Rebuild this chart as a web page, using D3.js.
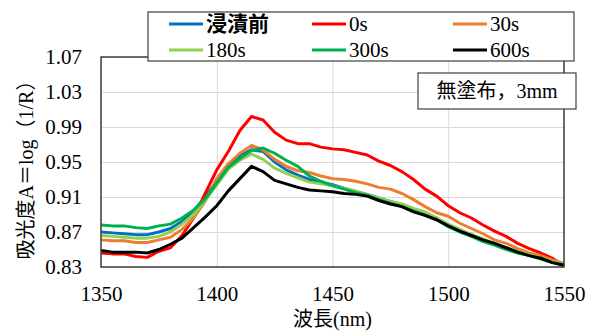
<!DOCTYPE html>
<html>
<head>
<meta charset="utf-8">
<script src="https://cdn.jsdelivr.net/npm/d3@7"></script>
<style>
    body { margin: 0; background: #fff; }
    svg { display: block; }
</style>
</head>
<body>
<div id="chart"></div>
<script>
// wavelength (nm)
const wavelengths = [
    1350, 1355, 1360, 1365, 1370, 1375, 1380, 1385, 1390, 1395,
    1400, 1405, 1410, 1415, 1420, 1425, 1430, 1435, 1440, 1445,
    1450, 1455, 1460, 1465, 1470, 1475, 1480, 1485, 1490, 1495,
    1500, 1505, 1510, 1515, 1520, 1525, 1530, 1535, 1540, 1545, 1550
];

// absorbance
const before = [
    0.870, 0.869, 0.868, 0.867, 0.867, 0.870, 0.874, 0.882, 0.894, 0.910,
    0.928, 0.946, 0.957, 0.964, 0.962, 0.950, 0.941, 0.935, 0.930, 0.927,
    0.924, 0.920, 0.916, 0.913, 0.909, 0.905, 0.901, 0.895, 0.891, 0.886,
    0.878, 0.872, 0.867, 0.861, 0.857, 0.851, 0.848, 0.844, 0.840, 0.836, 0.832
];
const s0 = [
    0.846, 0.845, 0.845, 0.842, 0.841, 0.848, 0.852, 0.866, 0.886, 0.914,
    0.941, 0.962, 0.986, 1.002, 0.998, 0.984, 0.975, 0.971, 0.971, 0.967,
    0.965, 0.964, 0.961, 0.958, 0.951, 0.946, 0.939, 0.930, 0.919, 0.911,
    0.900, 0.892, 0.886, 0.878, 0.871, 0.865, 0.857, 0.851, 0.846, 0.840, 0.831
];
const s30 = [
    0.861, 0.860, 0.860, 0.858, 0.858, 0.861, 0.864, 0.873, 0.886, 0.905,
    0.931, 0.948, 0.960, 0.969, 0.964, 0.953, 0.945, 0.940, 0.938, 0.934,
    0.931, 0.930, 0.928, 0.925, 0.921, 0.919, 0.914, 0.907, 0.899, 0.892,
    0.888, 0.880, 0.874, 0.868, 0.861, 0.857, 0.851, 0.846, 0.843, 0.838, 0.834
];
const s180 = [
    0.866, 0.865, 0.864, 0.863, 0.863, 0.865, 0.870, 0.879, 0.890, 0.906,
    0.924, 0.942, 0.952, 0.959, 0.953, 0.943, 0.937, 0.932, 0.927, 0.925,
    0.923, 0.920, 0.917, 0.913, 0.909, 0.905, 0.902, 0.897, 0.893, 0.886,
    0.879, 0.873, 0.867, 0.862, 0.857, 0.852, 0.848, 0.844, 0.840, 0.836, 0.833
];
const s300 = [
    0.878, 0.877, 0.877, 0.875, 0.874, 0.877, 0.879, 0.886, 0.895, 0.908,
    0.926, 0.944, 0.954, 0.963, 0.966, 0.960, 0.952, 0.945, 0.934, 0.928,
    0.923, 0.919, 0.915, 0.912, 0.907, 0.903, 0.899, 0.894, 0.889, 0.884,
    0.876, 0.870, 0.865, 0.859, 0.855, 0.850, 0.846, 0.843, 0.839, 0.835, 0.832
];
const s600 = [
    0.849, 0.847, 0.847, 0.847, 0.846, 0.850, 0.856, 0.863, 0.875, 0.887,
    0.900, 0.917, 0.931, 0.945, 0.939, 0.929, 0.925, 0.921, 0.918, 0.917,
    0.916, 0.914, 0.913, 0.911, 0.906, 0.902, 0.899, 0.893, 0.889, 0.884,
    0.877, 0.871, 0.866, 0.861, 0.857, 0.852, 0.847, 0.843, 0.840, 0.835, 0.832
];

const seriesNames = ['浸漬前', '0s', '30s', '180s', '300s', '600s'];
const seriesValues = [before, s0, s30, s180, s300, s600];
const seriesColors = ['#0070C0', '#FF0000', '#ED7D31', '#92D050', '#00B050', '#000000'];

const xTicks = [1350, 1400, 1450, 1500, 1550];
const yTicks = [0.83, 0.87, 0.91, 0.95, 0.99, 1.03, 1.07];

const xTitle = '波長(nm)';
const yTitle = '吸光度A＝log（1/R）';
const note = '無塗布，3mm';

const LATIN = '"Liberation Serif"';
const CJK = '"Noto Sans CJK JP"';

// one tspan per script run, each with a single font
function setMixedText(sel, str) {
    sel.text(null);
    const runs = str.match(/[\u3000-\u9fff\uff00-\uffef]+|[^\u3000-\u9fff\uff00-\uffef]+/g) || [];
    runs.forEach(r => {
        const isCjk = /[\u3000-\u9fff\uff00-\uffef]/.test(r);
        sel.append('tspan')
            .style('font-family', isCjk ? CJK : LATIN)
            .text(r);
    });
}

const width = 590, height = 333;
const margin = { top: 57, right: 26, bottom: 66, left: 101 };
const innerW = width - margin.left - margin.right;
const innerH = height - margin.top - margin.bottom;

const svg = d3.select('#chart').append('svg')
    .attr('width', width)
    .attr('height', height);

const x = d3.scaleLinear().domain([1350, 1550]).range([0, innerW]);
const y = d3.scaleLinear().domain([0.83, 1.07]).range([innerH, 0]);

const chart = svg.append('g')
    .attr('transform', `translate(${margin.left}, ${margin.top})`);

// grid
chart.append('g')
    .call(d3.axisLeft(y).tickValues(yTicks).tickSize(-innerW).tickFormat(''))
    .call(g => g.select('.domain').remove())
    .selectAll('line').attr('stroke', '#d9d9d9');
chart.append('g')
    .attr('transform', `translate(0, ${innerH})`)
    .call(d3.axisBottom(x).tickValues(xTicks).tickSize(-innerH).tickFormat(''))
    .call(g => g.select('.domain').remove())
    .selectAll('line').attr('stroke', '#d9d9d9');

// tick labels
const yAxis = chart.append('g')
    .call(d3.axisLeft(y).tickValues(yTicks).tickSize(0).tickPadding(19).tickFormat(d3.format('.2f')))
    .attr('font-family', null);
yAxis.select('.domain').remove();
yAxis.selectAll('text')
    .style('font-family', LATIN)
    .style('font-size', '21px')
    .attr('fill', '#000');

const xAxis = chart.append('g')
    .attr('transform', `translate(0, ${innerH})`)
    .call(d3.axisBottom(x).tickValues(xTicks).tickSize(0).tickPadding(19).tickFormat(d3.format('d')))
    .attr('font-family', null);
xAxis.select('.domain').remove();
xAxis.selectAll('text')
    .style('font-family', LATIN)
    .style('font-size', '21px')
    .attr('fill', '#000');

// lines
const line = d3.line()
    .x((d, i) => x(wavelengths[i]))
    .y(d => y(d));

chart.selectAll('.series')
    .data(seriesValues)
    .join('path')
    .attr('class', 'series')
    .attr('fill', 'none')
    .attr('stroke', (d, i) => seriesColors[i])
    .attr('stroke-width', 3)
    .attr('stroke-linejoin', 'round')
    .attr('d', line);

// plot frame
chart.append('rect')
    .attr('width', innerW)
    .attr('height', innerH)
    .attr('fill', 'none')
    .attr('stroke', '#404040')
    .attr('stroke-width', 1.5);

// axis titles
svg.append('text')
    .attr('x', margin.left + innerW / 2)
    .attr('y', 326)
    .attr('text-anchor', 'middle')
    .style('font-size', '20px')
    .call(setMixedText, xTitle);

svg.append('text')
    .attr('transform', `translate(33, ${margin.top + innerH / 2 + 3}) rotate(-90)`)
    .attr('text-anchor', 'middle')
    .style('font-size', '20px')
    .call(setMixedText, yTitle);

// annotation box
const noteG = svg.append('g').attr('transform', 'translate(418, 73)');
noteG.append('rect')
    .attr('width', 158)
    .attr('height', 36)
    .attr('fill', '#fff')
    .attr('stroke', '#404040')
    .attr('stroke-width', 1.2);
noteG.append('text')
    .attr('x', 79)
    .attr('y', 25)
    .attr('text-anchor', 'middle')
    .style('font-size', '20px')
    .call(setMixedText, note);

// legend
const legend = svg.append('g').attr('transform', 'translate(148, 12)');
legend.append('rect')
    .attr('width', 426)
    .attr('height', 49)
    .attr('fill', '#fff')
    .attr('stroke', '#404040')
    .attr('stroke-width', 1.2);

const colX = [21, 164, 305];
const rowY = [12, 38];
const item = legend.selectAll('.item')
    .data(seriesNames)
    .join('g')
    .attr('class', 'item')
    .attr('transform', (d, i) => `translate(${colX[i % 3]}, ${rowY[Math.floor(i / 3)]})`);
item.append('line')
    .attr('x1', 0).attr('x2', 34)
    .attr('stroke', (d, i) => seriesColors[i])
    .attr('stroke-width', 3);
item.append('text')
    .attr('x', 37)
    .attr('y', 7)
    .style('font-size', '21px')
    .style('font-weight', (d, i) => i === 0 ? 'bold' : 'normal')
    .each(function (d) { d3.select(this).call(setMixedText, d); });
</script>
</body>
</html>
